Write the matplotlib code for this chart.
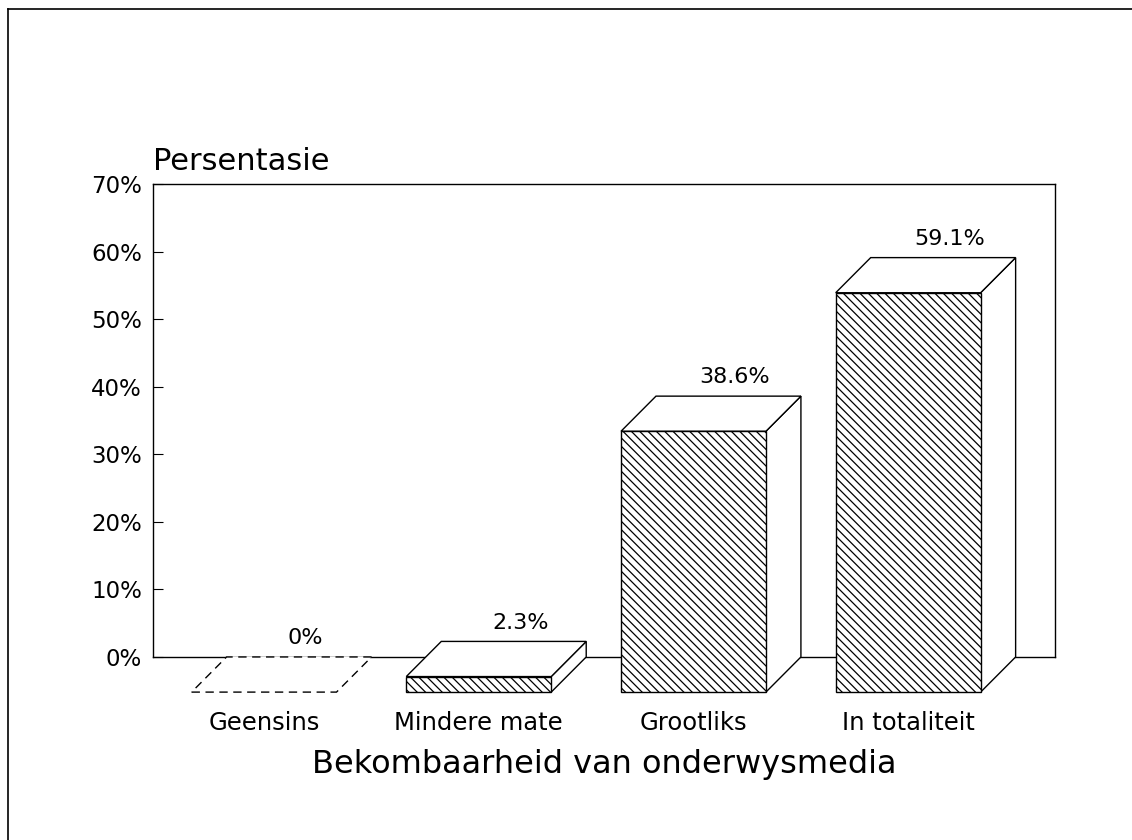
import matplotlib
matplotlib.use("Agg")
import matplotlib.pyplot as plt
from matplotlib.patches import Polygon
from matplotlib.lines import Line2D

categories = ["Geensins", "Mindere mate", "Grootliks", "In totaliteit"]
values = [0, 2.3, 38.6, 59.1]
value_labels = ["0%", "2.3%", "38.6%", "59.1%"]
yticks = [0, 10, 20, 30, 40, 50, 60, 70]
ytick_labels = ["0%", "10%", "20%", "30%", "40%", "50%", "60%", "70%"]

# box look
bar_w = 0.675      # front face width (category units)
depth_x = 0.163    # oblique depth, x
depth_y = 5.2      # oblique depth, y (percent units)

plt.rcParams["font.family"] = "DejaVu Sans"
plt.rcParams["hatch.linewidth"] = 0.9

fig = plt.figure(figsize=(11.32, 8.4), dpi=100)
ax = fig.add_axes([0.1352, 0.2179, 0.7968, 0.5631])
ax.set_xlim(-0.517, 3.684)
ax.set_ylim(0, 70)

for i, v in enumerate(values):
    x0 = i - bar_w / 2
    x1 = i + bar_w / 2
    top = [(x0, v - depth_y), (x1, v - depth_y),
           (x1 + depth_x, v), (x0 + depth_x, v)]
    if v == 0:
        ax.add_patch(Polygon(top, closed=True, facecolor="white", edgecolor="black",
                             lw=1.0, ls=(0, (6, 4)), zorder=3, clip_on=False))
    else:
        front = [(x0, -depth_y), (x1, -depth_y), (x1, v - depth_y), (x0, v - depth_y)]
        side = [(x1, -depth_y), (x1 + depth_x, 0), (x1 + depth_x, v), (x1, v - depth_y)]
        ax.add_patch(Polygon(side, closed=True, facecolor="white", edgecolor="black",
                             lw=1.0, zorder=3, clip_on=False))
        ax.add_patch(Polygon(top, closed=True, facecolor="white", edgecolor="black",
                             lw=1.0, zorder=3, clip_on=False))
        ax.add_patch(Polygon(front, closed=True, facecolor="white", edgecolor="black",
                             hatch="\\\\\\\\", lw=1.0, zorder=3, clip_on=False))
    ax.text(i + depth_x + 0.03, v + 2.8, value_labels[i], ha="center", va="center",
            fontsize=16)

for s in ax.spines.values():
    s.set_linewidth(1.0)

ax.set_yticks(yticks)
ax.set_yticklabels(ytick_labels, fontsize=16.5)
ax.tick_params(axis="y", direction="in", length=7, width=0.8, pad=8)
ax.set_xticks(range(len(categories)))
ax.set_xticklabels(categories, fontsize=17.5)
ax.tick_params(axis="x", length=0, pad=39)
ax.set_xlabel("Bekombaarheid van onderwysmedia", fontsize=23, labelpad=10)
ax.text(0, 1.03, "Persentasie", transform=ax.transAxes, ha="left", va="baseline",
        fontsize=22)

# page border of the scan
fig.add_artist(Line2D([0.007, 0.007], [0, 0.989], color="black", lw=1.2))
fig.add_artist(Line2D([0.007, 1.0], [0.989, 0.989], color="black", lw=1.2))

fig.savefig("out.png", dpi=100)
